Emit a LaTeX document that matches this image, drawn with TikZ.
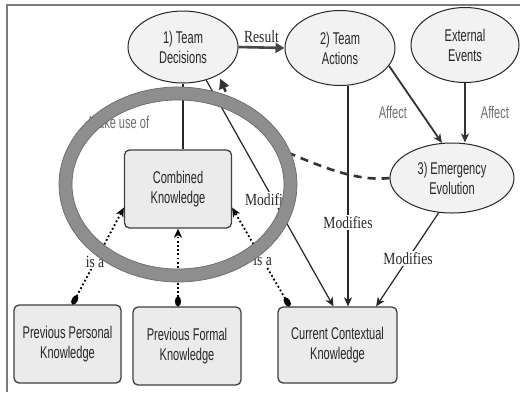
\documentclass[tikz,border=0pt]{standalone}
\usepackage{fontspec}
\newfontfamily\nodefont{Liberation Sans}[FakeStretch=0.65]
\newfontfamily\labfont{Liberation Serif}[FakeStretch=0.8]
\usetikzlibrary{arrows.meta,shapes.geometric}
\definecolor{ellfill}{HTML}{F2F2F2}
\definecolor{boxfill}{HTML}{EBEBEB}
\definecolor{ringgray}{HTML}{8E8E8E}
\definecolor{ringedge}{HTML}{6A6A6A}
\definecolor{labgray}{HTML}{6E6E6E}
\definecolor{framegray}{HTML}{7A7A7A}
\definecolor{inkgray}{HTML}{333333}
\begin{document}
\begin{tikzpicture}[x=1pt,y=-1pt,
  ell/.style={ellipse, draw=black!85, line width=1pt, fill=ellfill, inner sep=0pt,
    align=center, text=black!85, font=\nodefont\fontsize{17}{20}\selectfont},
  kbox/.style={rectangle, rounded corners=5pt, draw=black!75, line width=1.3pt,
    fill=boxfill, inner sep=0pt, align=center, text=black!85,
    font=\nodefont\fontsize{17}{20}\selectfont},
  serlab/.style={font=\labfont\fontsize{17}{19}\selectfont, text=black!85,
    fill=white, inner sep=1.5pt},
  graylab/.style={font=\nodefont\fontsize{17}{20}\selectfont, text=labgray, inner sep=1pt},
  resarrow/.style={draw=inkgray!90, line width=2.6pt, -{Triangle[length=9pt,width=10pt]}},
  affarrow/.style={draw=inkgray, line width=1.8pt, -{Stealth[length=9pt,width=8pt,inset=2.5pt]}},
  modarrow/.style={draw=black!85, line width=1.2pt, -{Stealth[length=9pt,width=8pt,inset=2.5pt]}},
  plainline/.style={draw=black!85, line width=1.1pt},
  isaarrow/.style={draw=black, line width=1.8pt, dash pattern=on 1.8pt off 2.4pt,
    {Ellipse[length=10pt,width=6pt]}-{Stealth[length=9pt,width=8pt,inset=2.5pt]}},
  dashconn/.style={draw=inkgray, line width=2.6pt, dash pattern=on 8pt off 6pt,
    -{Triangle[length=10pt,width=10pt]}}
]
\useasboundingbox (0,0) rectangle (520,392);
\fill[white] (0,0) rectangle (520,392);
\draw[framegray, line width=1.6pt] (7,392) -- (7,5) -- (520,5);

% nodes
\node[ell, minimum width=110pt, minimum height=72pt] (td) at (183,47) {1) Team\\Decisions};
\node[ell, minimum width=110pt, minimum height=75pt] (ta) at (340,48) {2) Team\\Actions};
\node[ell, minimum width=108pt, minimum height=75pt] (ext) at (465,45) {External\\Events};
\node[ell, minimum width=124pt, minimum height=70pt] (ee) at (452,178) {3) Emergency\\Evolution};
\node[kbox, minimum width=107pt, minimum height=78pt] (ck) at (178,189) {Combined\\Knowledge};
\node[kbox, minimum width=107pt, minimum height=78pt] (ppk) at (67.5,344) {Previous Personal\\Knowledge};
\node[kbox, minimum width=108pt, minimum height=78pt] (pfk) at (187,346) {Previous Formal\\Knowledge};
\node[kbox, minimum width=119pt, minimum height=76pt] (cck) at (337.5,345) {Current Contextual\\Knowledge};

% connectors
\draw[resarrow] (td.east) -- (ta.west) node[midway, above=2pt, serlab, fill=none] {Result};
\draw[affarrow] (ta.-20) -- (ee.106) node[pos=0.6, left=12pt, graylab] {Affect};
\draw[affarrow] (ext.south) -- (ee.north -| ext.south) node[midway, right=14pt, graylab] {Affect};
\draw[modarrow] (ta.-78) -- (ta.-78 |- cck.north) node[pos=0.62, serlab] {Modifies};
\draw[modarrow] (ee.-111) -- (cck.45) node[pos=0.49, serlab] {Modifies};
\draw[modarrow] (td.-55) -- (cck.96) node[pos=0.53, xshift=-4pt, serlab] {Modifies};
\draw[plainline] (td.south) -- (td.south |- ck.north);
\node[graylab] (mku) at (119,122) {Make use of};

\draw[isaarrow] (ppk.83) -- (ck.199) node[pos=0.44, serlab] {is a};
\draw[isaarrow] (ck.south |- pfk.north) -- (ck.south);
\draw[isaarrow] (cck.141) -- (ck.-19) node[pos=0.47, serlab] {is a};

\draw[dashconn, shorten >=4pt] (ee.west) .. controls (355,182) and (318,165) .. (282.3,150.4)
  arc[start angle=-22, end angle=-62, x radius=112.5, y radius=91] -- (td.-38);

% highlight ring
\draw[ringgray, line width=13pt] (178,184.5) ellipse [x radius=112.5, y radius=91];
\draw[ringedge, line width=0.7pt] (178,184.5) ellipse [x radius=119, y radius=97.5];
\draw[ringedge, line width=0.7pt] (178,184.5) ellipse [x radius=106, y radius=84.5];
\end{tikzpicture}
\end{document}
